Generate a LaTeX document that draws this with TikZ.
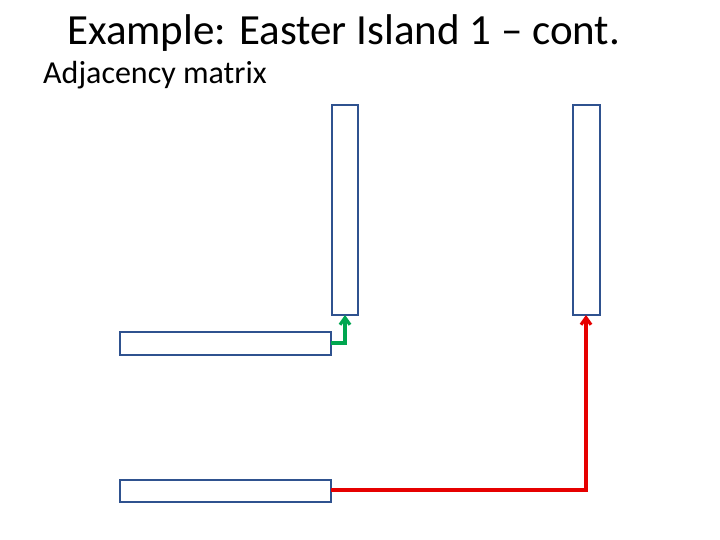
\documentclass[tikz,border=0pt]{standalone}
\usepackage{fontspec}
\usetikzlibrary{arrows.meta}
\setmainfont{Carlito}
\definecolor{bx}{RGB}{47,82,143}
\definecolor{gr}{RGB}{0,166,80}
\definecolor{rd}{RGB}{230,0,0}
\begin{document}
\begin{tikzpicture}[x=1pt,y=-1pt,
  box/.style={draw=bx,line width=2.6pt,fill=white},
  con/.style={line width=3.2pt,-{Straight Barb[length=7pt,width=10pt]}}]
\useasboundingbox (0,0) rectangle (720,540);
\node[anchor=west,inner sep=0pt,font=\fontsize{43}{48}\selectfont] (t) at (67,33) {Example: Easter Island 1 – cont.};
\node[anchor=west,inner sep=0pt,font=\fontsize{32}{36}\selectfont] (s) at (43,75) {Adjacency matrix};
\draw[box] (332,105) rectangle (358,315);
\coordinate (v1) at (345,315);
\draw[box] (573,105) rectangle (600,315);
\coordinate (v2) at (586,315);
\draw[box] (120,332) rectangle (331,355);
\coordinate (h1) at (331,343);
\draw[box] (120,480) rectangle (331,502);
\coordinate (h2) at (331,490);
\draw[con,gr] (h1) -| (v1);
\draw[con,rd] (h2) -| (v2);
\end{tikzpicture}
\end{document}
